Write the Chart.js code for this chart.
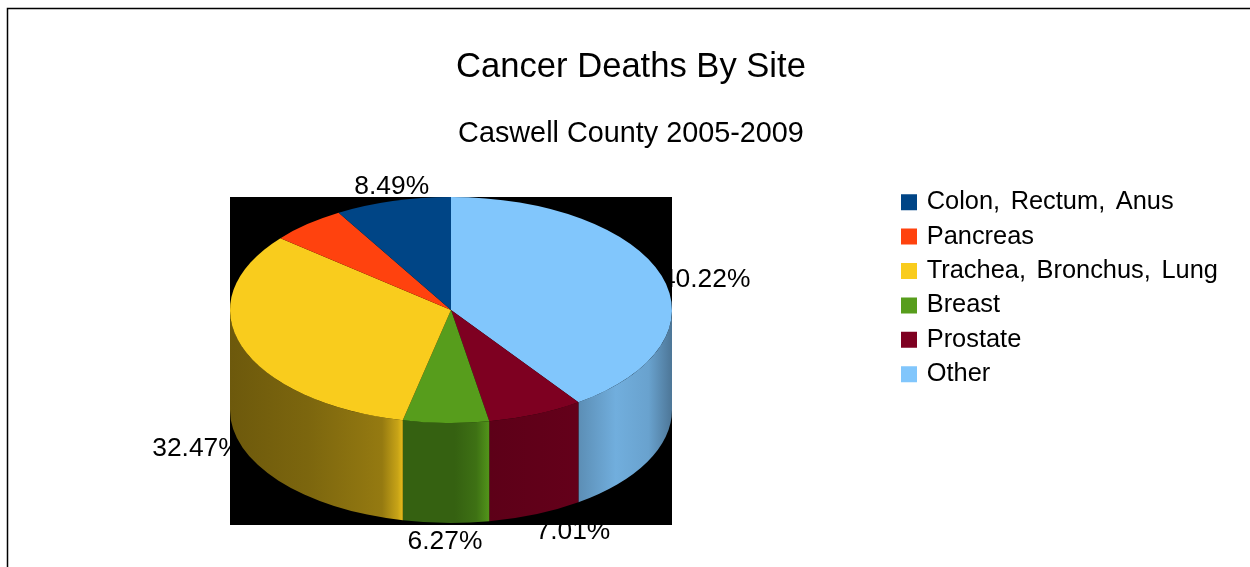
<!DOCTYPE html>
<html>
<head>
<meta charset="utf-8">
<title>Cancer Deaths By Site</title>
<script src="https://cdn.jsdelivr.net/npm/chart.js@4"></script>
<style>
  html, body { margin: 0; padding: 0; background: #fff; overflow: hidden; }
  canvas { display: block; }
</style>
</head>
<body>
<canvas id="pie" width="1250" height="567"></canvas>
<script>
// values in the legend's order
const sites = ['Colon, Rectum, Anus', 'Pancreas', 'Trachea, Bronchus, Lung', 'Breast', 'Prostate', 'Other'];
const percents = [8.49, 5.54, 32.47, 6.27, 7.01, 40.22];
const colors = ['#004586', '#ff420e', '#f9cc1d', '#579d1c', '#7e0021', '#81c6fc'];
const chartTitle = 'Cancer Deaths By Site';
const chartSubtitle = 'Caswell County 2005-2009';

// the pie runs counter-clockwise in legend order, chart.js only goes clockwise
const slices = sites.map((s, i) => i).reverse();

// look of the fake 3D
const FONT = '"Liberation Sans", Arial, sans-serif';
const RX = 221, RY = 113, DEPTH = 100;
const CX = 451, CY = 310;
// brightness along each side wall, left to right (same order as sites)
const wallShades = [
  null, null,
  [[0, 0.44], [0.45, 0.5], [0.88, 0.6], [0.97, 0.8], [1, 0.92]],
  [[0, 0.62], [0.6, 0.62], [0.85, 0.72], [1, 0.95]],
  [[0, 0.74], [1, 0.8]],
  [[0, 0.72], [0.4, 0.88], [0.75, 0.82], [1, 0.6]]
];
// label shift from the slice rim, the pancreas label sits behind the black box
const labelNudge = [[-1, -14], null, [-45, 2], [-1, 19], [37, 17], [44, 4]];

function shade(hex, k) {
  const n = parseInt(hex.slice(1), 16);
  return `rgb(${(n >> 16) * k | 0},${((n >> 8) & 255) * k | 0},${(n & 255) * k | 0})`;
}

const fakePie = {
  id: 'fakePie',
  afterLayout(chart) {
    // the reference has its pie under the titles, so boxes are placed by hand
    chart.chartArea = { left: CX - RX, right: CX + RX, top: CY - RX, bottom: CY + RX, width: RX * 2, height: RX * 2 };
    const title = chart.titleBlock, sub = chart.boxes.find(b => b !== title && b.options && b.options.text === chartSubtitle);
    title.left = 12; title.right = 1250; title.top = 47;
    sub.left = 12; sub.right = 1250; sub.top = 116.5;
    const legend = chart.legend;
    legend.left = 895; legend.right = 1250; legend.top = 180.5; legend.bottom = 567;
    if (!legend._spaced) {
      const draw = legend.draw;
      legend.draw = function () {
        chart.ctx.save();
        chart.ctx.wordSpacing = '3.5px';
        draw.call(legend);
        chart.ctx.restore();
      };
      legend._spaced = true;
    }
  },
  beforeDraw(chart) {
    const ctx = chart.ctx;
    ctx.save();
    ctx.strokeStyle = '#000';
    ctx.lineWidth = 1.5;
    ctx.beginPath();
    ctx.moveTo(7.5, 567);
    ctx.lineTo(7.5, 8.5);
    ctx.lineTo(1250, 8.5);
    ctx.stroke();
    ctx.restore();
  },
  beforeDatasetsDraw(chart) {
    const ctx = chart.ctx;
    const arcs = chart.getDatasetMeta(0).data;

    // labels go first, the black box cuts them like in the reference
    ctx.save();
    ctx.fillStyle = '#000';
    ctx.font = '26.4px ' + FONT;
    ctx.textAlign = 'center';
    ctx.textBaseline = 'middle';
    arcs.forEach((arc, n) => {
      const i = slices[n];
      if (!labelNudge[i]) return;
      const mid = (arc.startAngle + arc.endAngle) / 2;
      const x = CX + Math.cos(mid) * RX + labelNudge[i][0];
      const y = CY + Math.sin(mid) * RY + (Math.sin(mid) > 0 ? DEPTH : 0) + labelNudge[i][1];
      ctx.fillText(percents[i].toFixed(2) + '%', x, y);
    });

    ctx.fillStyle = '#000';
    ctx.fillRect(CX - RX, CY - RY, RX * 2, RY * 2 + DEPTH + 2);

    // side walls, only the slices on the front half have one
    arcs.forEach((arc, n) => {
      const i = slices[n];
      if (!wallShades[i]) return;
      const a0 = Math.max(arc.startAngle, 0), a1 = Math.min(arc.endAngle, Math.PI);
      if (a1 <= a0) return;
      const xa = CX + Math.cos(a1) * RX, xb = CX + Math.cos(a0) * RX;
      const grad = ctx.createLinearGradient(xa, 0, xb, 0);
      wallShades[i].forEach(s => grad.addColorStop(s[0], shade(colors[i], s[1])));
      ctx.fillStyle = grad;
      ctx.beginPath();
      ctx.ellipse(CX, CY, RX, RY, 0, a0, a1);
      ctx.ellipse(CX, CY + DEPTH, RX, RY, 0, a1, a0, true);
      ctx.closePath();
      ctx.fill();
    });
    ctx.restore();

    // squash the library's round pie into the top face
    ctx.save();
    ctx.translate(CX, CY);
    ctx.scale(1, RY / RX);
    ctx.translate(-CX, -CY);
  },
  afterDatasetsDraw(chart) {
    chart.ctx.restore();
  }
};

new Chart(document.getElementById('pie'), {
  type: 'pie',
  data: {
    labels: slices.map(i => sites[i]),
    datasets: [{
      data: slices.map(i => percents[i]),
      backgroundColor: slices.map(i => colors[i]),
      borderWidth: 0,
      clip: false
    }]
  },
  options: {
    responsive: false,
    animation: false,
    plugins: {
      tooltip: { enabled: false },
      title: { display: true, text: chartTitle, color: '#000', padding: 0, font: { family: FONT, size: 34.6, weight: 'normal' } },
      subtitle: { display: true, text: chartSubtitle, color: '#000', padding: 0, font: { family: FONT, size: 28.8, weight: 'normal' } },
      legend: {
        position: 'right',
        align: 'start',
        reverse: true,
        labels: {
          color: '#000',
          font: { family: FONT, size: 25.4 },
          padding: 9,
          boxWidth: 10,
          boxHeight: 10,
          generateLabels(chart) {
            return slices.map(i => ({
              text: sites[i],
              fillStyle: colors[i],
              strokeStyle: colors[i],
              lineWidth: 6,
              hidden: false,
              index: slices.indexOf(i)
            }));
          }
        }
      }
    }
  },
  plugins: [fakePie]
});
</script>
</body>
</html>
